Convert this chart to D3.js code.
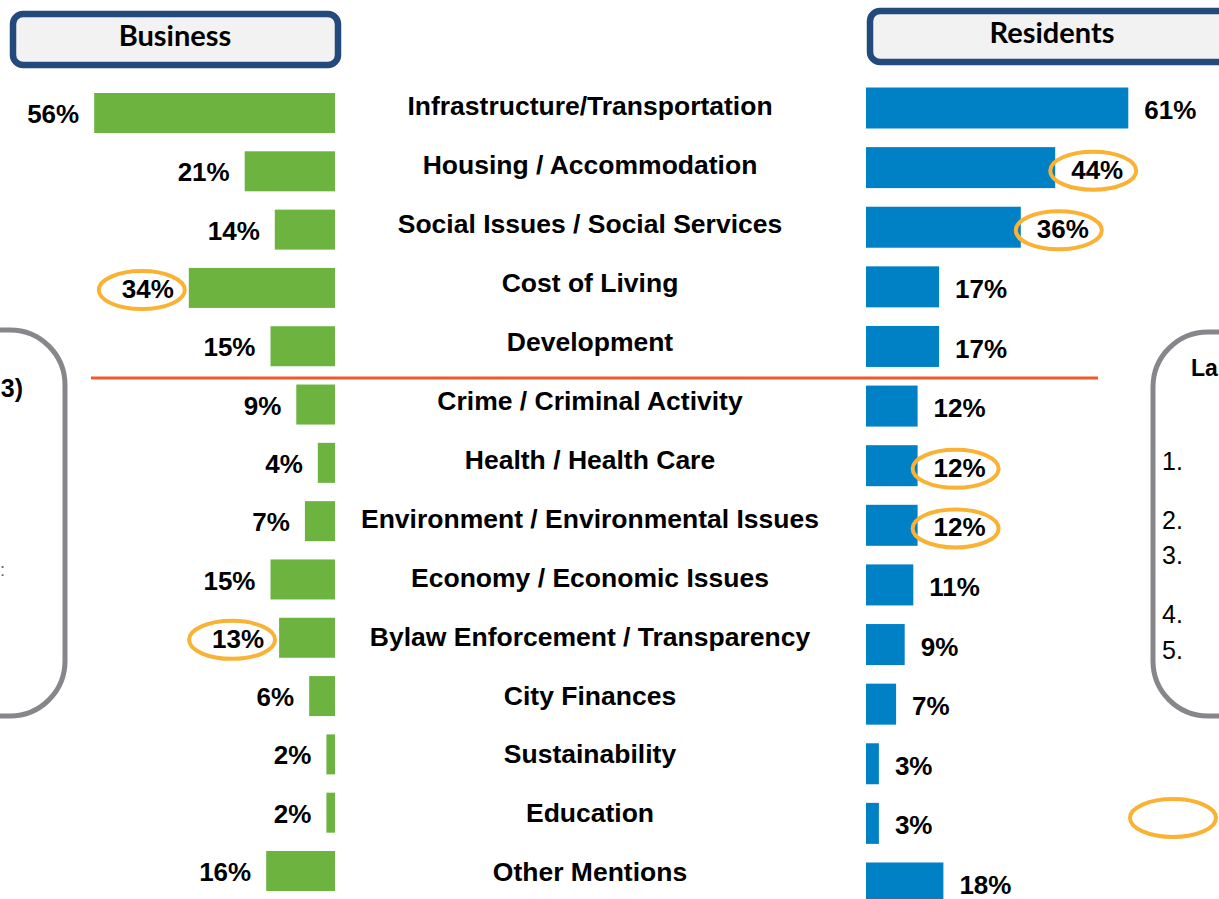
<!DOCTYPE html>
<html>
<head>
<meta charset="utf-8">
<script src="https://cdn.jsdelivr.net/npm/d3@7"></script>
<style>
  body { margin: 0; background: #fff; overflow: hidden; }
  text { font-family: "Liberation Sans", Arial, sans-serif; }
</style>
</head>
<body>
<div id="chart"></div>
<script>
// categories, top to bottom
var categories = [
  "Infrastructure/Transportation",
  "Housing / Accommodation",
  "Social Issues / Social Services",
  "Cost of Living",
  "Development",
  "Crime / Criminal Activity",
  "Health / Health Care",
  "Environment / Environmental Issues",
  "Economy / Economic Issues",
  "Bylaw Enforcement / Transparency",
  "City Finances",
  "Sustainability",
  "Education",
  "Other Mentions"
]
var business  = [56, 21, 14, 34, 15, 9, 4, 7, 15, 13, 6, 2, 2, 16]
var residents = [61, 44, 36, 17, 17, 12, 12, 12, 11, 9, 7, 3, 3, 18]

// labels circled in orange
var businessCircled  = ["Cost of Living", "Bylaw Enforcement / Transparency"]
var residentsCircled = ["Housing / Accommodation", "Social Issues / Social Services",
                        "Health / Health Care", "Environment / Environmental Issues"]

var listNumbers = ["1.", "2.", "3.", "4.", "5."]

var width = 1219, height = 899
var green = "#6db33f", blue = "#0081c6", orange = "#f9b233"

var svg = d3.select("#chart").append("svg")
  .attr("width", width)
  .attr("height", height)

// one scale for bar length (px per percent)
var x = d3.scaleLinear().domain([0, 100]).range([0, 430])

var yBiz = d3.scalePoint().domain(categories).range([113, 871])
var yRes = d3.scalePoint().domain(categories).range([108, 883])
var yCat = d3.scalePoint().domain(categories).range([106, 872])

var bizRight = 335, resLeft = 866

// side boxes (cut by the page edge)
svg.append("rect")
  .attr("x", -250).attr("y", 330).attr("width", 315).attr("height", 386)
  .attr("rx", 55)
  .attr("fill", "none").attr("stroke", "#87878b").attr("stroke-width", 5)
svg.append("text")
  .attr("x", 23).attr("y", 397)
  .attr("text-anchor", "end")
  .attr("font-weight", "bold").attr("font-size", 25)
  .text("3)")
svg.append("text")
  .attr("x", 0).attr("y", 576)
  .attr("fill", "#666").attr("font-size", 18)
  .text(":")

svg.append("rect")
  .attr("x", 1153).attr("y", 332).attr("width", 300).attr("height", 384)
  .attr("rx", 55)
  .attr("fill", "none").attr("stroke", "#87878b").attr("stroke-width", 5)
svg.append("text")
  .attr("x", 1191).attr("y", 376)
  .attr("font-weight", "bold").attr("font-size", 23)
  .text("La")
var listY = [470, 529, 564, 623, 659]
svg.selectAll("text.num")
  .data(listNumbers)
  .enter()
  .append("text")
  .attr("class", "num")
  .attr("x", 1162)
  .attr("y", function(d, i){ return listY[i] })
  .attr("font-size", 25)
  .text(function(d){ return d })

// legend ellipse
svg.append("ellipse")
  .attr("cx", 1173).attr("cy", 818).attr("rx", 43).attr("ry", 19)
  .attr("fill", "none").attr("stroke", orange).attr("stroke-width", 4)

// headers
function header(x0, w, label, cx, by){
  svg.append("rect")
    .attr("x", x0).attr("y", by - 32).attr("width", w).attr("height", 51)
    .attr("rx", 10)
    .attr("fill", "#f2f2f2").attr("stroke", "#234a7c").attr("stroke-width", 6.5)
  svg.append("text")
    .attr("x", cx).attr("y", by)
    .attr("text-anchor", "middle")
    .attr("font-weight", "bold").attr("font-size", 29)
    .style("font-family", "Lato, 'Open Sans', sans-serif")
    .text(label)
}
header(13, 325, "Business", 175, 46)
header(870, 400, "Residents", 1052, 43)

// business bars
svg.selectAll("rect.biz")
  .data(business)
  .enter()
  .append("rect")
  .attr("class", "biz")
  .attr("x", function(d){ return bizRight - x(d) })
  .attr("y", function(d, i){ return yBiz(categories[i]) - 20 })
  .attr("width", function(d){ return x(d) })
  .attr("height", 40)
  .attr("fill", green)

var bizLabels = svg.selectAll("text.biz")
  .data(business)
  .enter()
  .append("text")
  .attr("class", "biz")
  .attr("x", function(d){ return bizRight - x(d) - 15 })
  .attr("y", function(d, i){ return yBiz(categories[i]) + 1 })
  .attr("dy", "0.35em")
  .attr("text-anchor", "end")
  .attr("font-weight", "bold").attr("font-size", 26)
  .text(function(d){ return d + "%" })

// resident bars
svg.selectAll("rect.res")
  .data(residents)
  .enter()
  .append("rect")
  .attr("class", "res")
  .attr("x", resLeft)
  .attr("y", function(d, i){ return yRes(categories[i]) - 20.5 })
  .attr("width", function(d){ return x(d) })
  .attr("height", 41)
  .attr("fill", blue)

var resLabels = svg.selectAll("text.res")
  .data(residents)
  .enter()
  .append("text")
  .attr("class", "res")
  .attr("x", function(d){ return resLeft + x(d) + 16 })
  .attr("y", function(d, i){ return yRes(categories[i]) + 2 })
  .attr("dy", "0.35em")
  .attr("font-weight", "bold").attr("font-size", 26)
  .text(function(d){ return d + "%" })

// category names
svg.selectAll("text.cat")
  .data(categories)
  .enter()
  .append("text")
  .attr("class", "cat")
  .attr("x", 590)
  .attr("y", function(d){ return yCat(d) })
  .attr("dy", "0.35em")
  .attr("text-anchor", "middle")
  .attr("font-weight", "bold").attr("font-size", 26.5)
  .text(function(d){ return d })

// separator between top five and the rest
svg.append("line")
  .attr("x1", 91).attr("x2", 1098)
  .attr("y1", 378).attr("y2", 378)
  .attr("stroke", "#f15a29").attr("stroke-width", 3)

// circle highlighted labels
function circle(labels, list, shift){
  labels.each(function(d, i){
    if (list.indexOf(categories[i]) < 0) return
    var b = this.getBBox()
    svg.append("ellipse")
      .attr("cx", b.x + b.width / 2 + shift)
      .attr("cy", b.y + b.height / 2 + 1)
      .attr("rx", 43).attr("ry", 19)
      .attr("fill", "none").attr("stroke", orange).attr("stroke-width", 4)
  })
}
circle(bizLabels, businessCircled, -6)
circle(resLabels, residentsCircled, -4)
</script>
</body>
</html>
